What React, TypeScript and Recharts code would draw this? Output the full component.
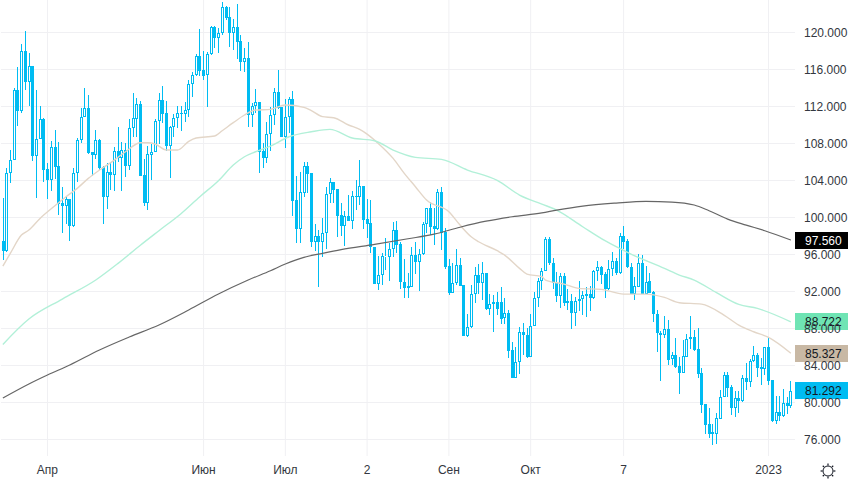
import React from "react";
import { ComposedChart, Bar, Line, XAxis, YAxis, CartesianGrid, ReferenceDot } from "recharts";

const opens = [
97.45,96.41,104.77,106.18,113.78,111.55,118.0,114.68,116.34,106.68,
108.45,110.61,105.2,104.09,107.58,105.56,101.53,101.27,102,99.11,
104.77,108.34,110.82,111.83,107.08,106.79,108.34,105.42,102.25,104.91,
104.63,107.15,106.46,107.29,105.6,109.64,110.68,112.27,104.55,101.6,
106.79,107.11,110.39,112.66,111.26,107.76,109.74,110.72,111.29,111.22,
111.58,114.39,115.37,117.46,115.94,115.37,117.64,120.56,119.44,119.91,
122.72,121.64,119.98,120.56,119.04,116.84,117.2,111.11,112.09,112.45,
107.15,106.46,109.06,111.11,113.53,111.91,108.73,110.82,112.81,101.89,
98.79,102.69,105.57,104.78,97.32,97.97,97.39,98.29,102.51,103.8,
103.05,100.24,99.12,100.16,99.66,102.33,102.25,103.41,99.84,99.37,
96.81,92.81,93.75,95.77,95.77,96.6,98.65,97.13,92.99,92.55,
92.52,95.9,95.22,96.09,99.26,100.99,99.08,98.79,102.72,98.39,
94.72,91.87,92.88,94.82,92.66,87.22,88.12,91.69,93.74,92.95,
93.99,90.07,90.61,90.82,90.83,89.1,89.64,85.68,82.61,84.34,
87.66,87.3,84.95,88.31,91.26,93.17,94.25,97.64,95.05,92.88,
91.55,93.71,90.72,90.94,89.64,90.94,91.23,91.69,91.69,91.26,
94.18,94.61,93.86,92.27,94.4,95.3,94.04,98.0,97.46,94.61,
91.73,92.52,95.05,91.73,93.14,91.95,89.57,87.55,87.33,87.95,
84.67,85.13,83.95,83.23,84.95,86.83,87.08,85.75,83.14,79.79,
77.67,76.77,76.62,78.24,80.55,82.93,81.67,79.43,80.44,80.19,
82.6,82.24,84.51,85.13,83.79,83.65,85.96,82.42,77.95,78.93,
78.53,79.9,79.61];

const closes = [
96.41,104.77,106.18,113.78,111.55,118.0,114.68,116.34,106.68,108.45,
110.61,105.17,104.09,107.58,105.49,101.45,101.27,102.0,99.11,104.77,
108.34,110.86,111.83,107.0,106.79,108.34,105.38,102.25,104.88,104.63,
107.15,106.46,107.29,105.6,109.64,110.72,112.23,104.52,101.6,106.86,
107.11,110.39,112.66,111.22,107.76,109.74,110.72,111.26,111.22,111.58,
114.39,115.37,117.46,115.87,115.29,117.64,120.56,119.44,119.91,122.72,
121.6,119.98,120.56,119.0,116.84,117.2,111.08,112.09,112.45,107.11,
106.46,109.06,111.11,113.53,111.87,108.73,110.82,112.77,101.81,98.79,
102.72,105.57,104.71,97.32,97.97,97.39,98.29,102.51,103.8,102.98,
100.2,99.12,100.16,99.66,102.33,102.25,103.41,99.77,99.3,96.78,
92.81,93.75,95.84,95.8,96.6,98.61,97.06,92.99,92.41,92.41,
95.9,95.22,96.09,99.26,100.99,99.0,98.79,102.72,98.36,94.68,
91.8,92.88,94.82,92.59,87.22,88.12,91.69,93.74,92.95,93.99,
90.07,90.61,90.82,90.07,88.99,89.64,85.6,82.61,84.34,87.66,
87.3,84.95,88.31,91.26,93.17,94.25,97.64,95.05,92.88,91.55,
93.71,90.72,90.94,89.64,90.94,91.23,91.59,91.55,91.26,94.18,
94.61,93.78,92.27,94.4,95.3,94.04,98.0,97.39,94.61,91.73,
92.56,95.05,91.73,93.06,91.87,89.53,87.48,87.33,87.95,84.63,
85.13,83.87,83.23,85.03,86.83,87.08,85.68,83.08,79.72,77.59,
76.62,76.62,78.28,80.55,82.93,81.6,79.43,80.44,80.19,82.6,
82.24,84.51,85.09,83.76,83.65,85.96,82.35,77.95,78.93,78.53,
79.9,79.61,81.29];

const highs = [
102.07,105.31,107.29,113.96,116.27,118.75,120.16,117.78,116.34,113.78,
112.01,110.72,105.85,108.23,109.45,108.16,103.26,102.25,102,105.31,
108.55,111.83,113.96,113.24,107.08,109.45,108.45,105.6,105.85,105.96,
107.62,109.82,108.12,108.01,110.64,113.42,112.88,112.55,106.28,107.73,
107.94,110.61,113.42,114.21,112.55,109.89,111.19,112.01,112.01,112.52,
114.86,115.76,117.67,120.37,118,117.92,120.66,120.7,120.45,123.26,
122.86,122.72,121.42,123.08,119.73,118.36,118.93,112.34,113.85,112.45,
108.01,110.28,111.91,113.96,115.94,111.98,112.81,112.99,113.67,104.48,
104.88,105.97,105.97,104.78,99.3,98.65,99.91,103.26,104.24,103.8,
103.05,101.53,100.7,102.43,102.83,104.06,106.22,103.41,101.97,101.89,
96.81,95.84,96.13,97.75,97.28,99.55,99.59,97.35,95.51,94.03,
96.77,97.38,96.55,99.55,101.02,101.64,100.99,103.08,103.26,98.82,
95.51,95.04,96.59,95.58,92.66,89.56,92.66,94.61,94.97,95.2,
94.03,91.72,91.62,91.98,92.45,91.26,90,86.58,85.96,88.13,
88.56,88.02,89.57,91.91,93.42,94.51,97.93,97.93,95.59,94.15,
94.04,93.96,92.24,91.69,91.44,93.14,92.05,92.52,92.63,94.33,
95.33,94.79,94.07,95.41,96.24,95.59,98.29,99.08,97.68,95.12,
93.57,96.05,95.95,94.76,94.0,92.05,90.0,87.73,89.35,88.92,
85.5,86.94,84.95,86.76,87.41,89.35,87.8,88.02,83.76,79.83,
79.36,77.67,78.89,81.34,83.25,83.25,81.88,81.23,81.23,82.96,
84.3,84.66,86.1,85.31,84.77,86.03,87.04,82.42,80.7,80.7,
81.42,80.62,82.32];

const lows = [
95.4,96.3,103.76,106.18,109.89,111.33,113.78,112.05,106.14,102.1,
108.45,103.87,101.99,102.9,104.16,100.27,98.35,99.29,97.49,98.93,
103.87,108.01,110.82,106.86,104.52,106.28,105.13,99.29,100.92,102.97,
102.9,106.0,102.9,104.34,105.13,108.73,108.73,104.52,101.27,100.8,
104.05,107.04,107.94,110.18,107.22,104.3,108.73,109.64,109.38,110.36,
110.9,113.06,115.29,115.29,114.86,111.98,117.56,118.28,117.82,119.73,
121.35,118.46,118.1,117.09,115.87,115.76,109.74,109.74,111.26,104.84,
105.31,105.92,107.22,110.0,111.69,108.73,107.47,109.17,100.16,97.27,
97.27,102.18,102.69,96.85,96.38,92.52,95.77,96.6,101.53,101.61,
97.93,98.04,96.96,99.66,98.76,100.81,101.35,98.76,97.75,96.2,
92.81,92.16,92.7,94.33,93.17,95.77,96.2,92.27,91.33,91.26,
92.52,93.85,92.08,95.94,98.28,98.1,97.02,98.64,96.48,94.39,
91.62,91.8,92.7,92.59,87.22,87.04,88.01,90.72,91.72,91.08,
90.0,89.45,87.65,89.45,88.49,88.49,84.77,82.61,82.61,83.05,
85.13,84.77,84.95,88.31,90.36,92.16,94.25,94.87,92.27,90.9,
90.25,90.43,90.0,87.95,88.31,89.89,89.46,89.28,89.89,91.19,
93.17,92.78,91.33,92.16,93.71,93.78,93.89,96.6,94.5,91.73,
91.12,92.49,91.73,91.73,91.8,88.74,85.5,82.36,86.94,84.05,
84.05,83.77,80.92,83.15,84.92,85.78,85.57,82.68,78.89,76.59,
76.12,75.4,75.5,78.24,80.55,80.62,78.64,78.46,78.89,80.08,
81.34,81.63,84.41,82.71,81.88,82.97,81.88,77.88,77.67,78.03,
78.46,78.71,79.36];

const ma50Bars = [0,2,5,7,10,14,17,20,23,26,30,33,37,39,41,44,47,50,52,57,59,62,65,68,72,76,81,83,86,89,93,96,98,101,105,108,111,114,120,123,126,128,133,135,139,141,145,146,151,155,161,167,173,178,182,188,194,198,202,206,212];
const ma50Values = [94.75,96.12,98.1,98.64,99.9,101.27,102.25,103.15,104.23,105.13,106.21,107.11,108.08,108.08,107.94,107.29,107.29,108.23,108.59,108.81,109.38,110.25,111.08,111.62,111.69,112.16,111.91,111.55,110.9,110.79,110.0,109.53,109.02,108.01,106.39,104.77,103.33,101.89,100.62,99.18,97.92,97.38,96.41,95.94,94.5,93.88,93.6,93.24,92.8,92.34,92.23,91.72,91.72,91.36,90.79,90.64,89.45,88.37,87.65,87.04,85.327];

const ma100Bars = [0,7,16,25,31,37,42,48,53,58,62,65,68,72,77,83,88,94,100,105,111,118,125,133,139,145,149,156,162,169,178,182,186,192,198,203,212];
const ma100Values = [86.28,89.02,91.18,93.24,95.04,97.0,98.57,100.44,102.25,103.98,105.67,106.57,107.11,107.72,108.73,109.27,109.53,108.59,108.3,107.29,106.5,106.28,105.13,104.01,102.43,101.45,100.8,99.0,97.49,96.05,94.5,93.78,93.24,91.87,90.6,90.17,88.722];

const ma200Bars = [0,7,12,18,26,34,42,50,58,66,72,76,81,86,91,100,109,116,123,130,137,145,149,156,165,173,180,186,190,195,200,205,212];
const ma200Values = [80.48,82.0,82.97,84.05,85.68,87.08,88.38,90.0,91.73,93.24,94.25,94.97,95.69,96.12,96.52,97.09,97.7,98.2,98.95,99.6,100.08,100.5,100.8,101.24,101.56,101.74,101.67,101.35,100.73,99.83,99.18,98.57,97.56];

const priceTicks = [76,80,84,88,92,96,100,104,108,112,116,120];
const timeTickBars = [12,54,76,98,120,142,167,206];
const timeTickLabels = ["Апр","Июн","Июл","2","Сен","Окт","7","2023"];

const badgeValues = [97.56,88.722,85.327,81.292];
const badgeLabels = ["97.560","88.722","85.327","81.292"];
const badgeFills = ["#000000","#6FE4B4","#C8B8A4","#00BCF2"];
const badgeInk = ["#ffffff","#131722","#131722","#131722"];

const CANDLE = "#00BCF2";
const FONT = "'Liberation Sans', Arial, sans-serif";

const table = opens.map((open, i) => {
  const a = ma50Bars.indexOf(i);
  const b = ma100Bars.indexOf(i);
  const c = ma200Bars.indexOf(i);
  return {
    bar: i,
    open,
    close: closes[i],
    high: highs[i],
    low: lows[i],
    ma50: a >= 0 ? ma50Values[a] : null,
    ma100: b >= 0 ? ma100Values[b] : null,
    ma200: c >= 0 ? ma200Values[c] : null,
  };
});

function Candle(props: any) {
  const { x, y, width, height, payload } = props;
  const { open, close, high, low } = payload;
  const perUnit = height / (high - low);
  const up = close > open;
  const yOf = (v: number) => Math.round(y + (high - v) * perUnit);
  const cx = Math.floor(x + width / 2);
  const top = yOf(Math.max(open, close));
  const bottom = Math.max(yOf(Math.min(open, close)), top + 1);
  const hi = yOf(high);
  const lo = yOf(low);
  return (
    <g>
      {hi < top && <rect x={cx} y={hi} width={1} height={top - hi} fill={CANDLE} />}
      {lo > bottom && <rect x={cx} y={bottom} width={1} height={lo - bottom} fill={CANDLE} />}
      {up ? (
        <rect x={cx - 0.5} y={top + 0.5} width={2} height={Math.max(bottom - top - 1, 0)} fill="none" stroke={CANDLE} strokeWidth={1} />
      ) : (
        <rect x={cx - 1} y={top} width={3} height={bottom - top} fill={CANDLE} />
      )}
    </g>
  );
}

function Badge(props: any) {
  const { cy, idx } = props;
  const y = Math.round(cy - 8.5);
  return (
    <g>
      <rect x={795} y={y} width={53} height={17} fill={badgeFills[idx]} />
      <text x={805} y={y + 13} fontFamily={FONT} fontSize={12} fill={badgeInk[idx]}>{badgeLabels[idx]}</text>
    </g>
  );
}

function Gear() {
  const spokes = [0, 45, 90, 135, 180, 225, 270, 315];
  return (
    <svg width={18} height={18} viewBox="0 0 18 18" style={{ position: "absolute", left: 819, top: 462 }}>
      <circle cx={9} cy={9} r={5} fill="none" stroke="#131722" strokeWidth={1} />
      {spokes.map((a) => (
        <line key={a} x1={9} y1={3.6} x2={9} y2={1.6} stroke="#131722" strokeWidth={1.2} transform={`rotate(${a} 9 9)`} />
      ))}
    </svg>
  );
}

export default function App() {
  return (
    <div style={{ position: "absolute", left: 0, top: 0, width: 850, height: 480, background: "#ffffff" }}>
      <ComposedChart
        width={850}
        height={480}
        data={table}
        barCategoryGap={0}
        margin={{ top: 0, right: 0, bottom: 0, left: 1 }}
      >
        <CartesianGrid stroke="#f0f0f3" strokeWidth={1} syncWithTicks />
        <XAxis
          dataKey="bar"
          type="category"
          ticks={timeTickBars}
          interval={0}
          height={24}
          padding={{ left: 0, right: 2.3 }}
          axisLine={false}
          tickLine={false}
          tickMargin={3}
          tickFormatter={(v: number) => timeTickLabels[timeTickBars.indexOf(v)] ?? ""}
          tick={{ fill: "#333740", fontSize: 12, fontFamily: FONT }}
        />
        <YAxis
          orientation="right"
          width={55}
          type="number"
          domain={[74.216, 123.514]}
          allowDataOverflow
          ticks={priceTicks}
          interval={0}
          axisLine={false}
          tickLine={false}
          tickMargin={3}
          tickFormatter={(v: number) => v.toFixed(3)}
          tick={{ fill: "#333740", fontSize: 12, fontFamily: FONT }}
        />
        <Bar dataKey={(d: any) => [d.low, d.high]} shape={<Candle />} isAnimationActive={false} />
        <Line dataKey="ma50" type="monotone" connectNulls stroke="#E3D6C8" strokeWidth={1.4} dot={false} activeDot={false} isAnimationActive={false} />
        <Line dataKey="ma100" type="monotone" connectNulls stroke="#B2F0D8" strokeWidth={1.4} dot={false} activeDot={false} isAnimationActive={false} />
        <Line dataKey="ma200" type="monotone" connectNulls stroke="#666666" strokeWidth={1.2} dot={false} activeDot={false} isAnimationActive={false} />
        {badgeValues.map((v, idx) => (
          <ReferenceDot key={idx} x={212} y={v} ifOverflow="visible" shape={(p: any) => <Badge {...p} idx={idx} />} />
        ))}
      </ComposedChart>
      <Gear />
    </div>
  );
}
